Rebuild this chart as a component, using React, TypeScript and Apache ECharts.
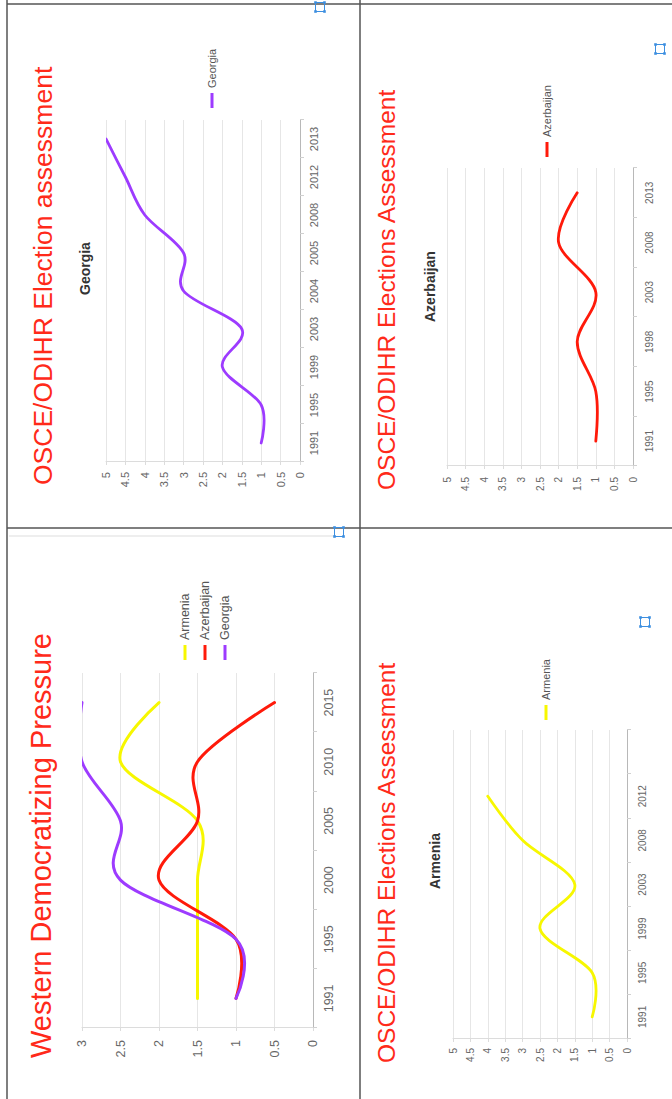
import React, { useEffect, useRef } from "react";
import * as echarts from "echarts";

// ---- Data ----
const wdpYears = ["1991", "1995", "2000", "2005", "2010", "2015"];
const wdpArmenia = [1.5, 1.5, 1.5, 1.5, 2.5, 2];
const wdpAzerbaijan = [1, 1, 2, 1.5, 1.5, 0.5];
const wdpGeorgia = [1, 1, 2.5, 2.5, 3, 3];

const georgiaYears = ["1991", "1995", "1999", "2003", "2004", "2005", "2008", "2012", "2013"];
const georgiaScores = [1, 1, 2, 1.5, 3, 3, 4, 4.5, 5];

const azerbaijanYears = ["1991", "1995", "1998", "2003", "2008", "2013"];
const azerbaijanScores = [1, 1, 1.5, 1, 2, 1.5];

const armeniaYears = ["1991", "1995", "1999", "2003", "2008", "2012", ""];
const armeniaScores = [1, 1, 2.5, 1.5, 3, 4, null];

const YELLOW = "#f7f700";
const RED = "#ff1a0a";
const PURPLE = "#9d3bff";
const TITLE_RED = "#ff2a1a";
const FONT = "'Liberation Sans', Arial, sans-serif";

function axes(idx: number, cats: string[], max: number, fs: number, xm: number, ym: number) {
  return {
    x: {
      gridIndex: idx,
      type: "category",
      data: cats,
      boundaryGap: true,
      axisLine: { lineStyle: { color: "#b8b8b8", width: 1 } },
      axisTick: { show: true, length: 4, lineStyle: { color: "#d0d0d0" } },
      axisLabel: { fontSize: fs, color: "#666", margin: xm, fontFamily: FONT, interval: 0 },
      splitLine: { show: false },
    },
    y: {
      gridIndex: idx,
      type: "value",
      min: 0,
      max: max,
      interval: 0.5,
      axisLine: { show: true, lineStyle: { color: "#dcdcdc" } },
      axisTick: { show: true, length: 3, lineStyle: { color: "#dcdcdc" } },
      splitLine: { lineStyle: { color: "#e6e6e6" } },
      axisLabel: { fontSize: fs, color: "#666", margin: ym, fontFamily: FONT },
    },
  };
}

// Cardinal (Catmull-Rom) curve through the points given by the axes' own scales,
// like the original chart's "function" curve type.
function curvePath(pts: number[][]) {
  const n = pts.length;
  if (n === 0) return "";
  let d = `M${pts[0][0]},${pts[0][1]}`;
  const tan = (i: number) => {
    if (i === 0 || i === n - 1) return [0, 0];
    return [(pts[i + 1][0] - pts[i - 1][0]) / 2, (pts[i + 1][1] - pts[i - 1][1]) / 2];
  };
  for (let i = 0; i < n - 1; i++) {
    const a = pts[i];
    const b = pts[i + 1];
    const ta = tan(i);
    const tb = tan(i + 1);
    const c1 = [a[0] + ta[0] / 3, a[1] + ta[1] / 3];
    const c2 = [b[0] - tb[0] / 3, b[1] - tb[1] / 3];
    d += ` C${c1[0]},${c1[1]} ${c2[0]},${c2[1]} ${b[0]},${b[1]}`;
  }
  return d;
}

function line(name: string, values: (number | null)[], idx: number, color: string, w: number) {
  const data: number[][] = [];
  values.forEach((v, i) => {
    if (v !== null) data.push([i, v]);
  });
  return {
    type: "custom",
    name,
    xAxisIndex: idx,
    yAxisIndex: idx,
    coordinateSystem: "cartesian2d",
    clip: true,
    encode: { x: 0, y: 1 },
    data,
    itemStyle: { color },
    renderItem: (params: any, api: any) => {
      if (params.dataIndex !== 0) return null;
      const pts = data.map((p) => api.coord(p));
      return {
        type: "path",
        shape: { pathData: curvePath(pts) },
        style: { stroke: color, lineWidth: w, fill: "none", lineCap: "round", lineJoin: "round" },
        silent: true,
      };
    },
  };
}

function blueIcon(cx: number, cy: number) {
  const c = "#3d8fe0";
  const s = 2.6;
  const h = 4.5;
  return {
    type: "group",
    x: cx,
    y: cy,
    silent: true,
    children: [
      { type: "rect", shape: { x: -h, y: -h, width: 2 * h, height: 2 * h }, style: { fill: "none", stroke: c, lineWidth: 1 } },
      { type: "rect", shape: { x: -h - s / 2, y: -h - s / 2, width: s, height: s }, style: { fill: c } },
      { type: "rect", shape: { x: h - s / 2, y: -h - s / 2, width: s, height: s }, style: { fill: c } },
      { type: "rect", shape: { x: -h - s / 2, y: h - s / 2, width: s, height: s }, style: { fill: c } },
      { type: "rect", shape: { x: h - s / 2, y: h - s / 2, width: s, height: s }, style: { fill: c } },
    ],
  };
}

function hline(x1: number, y1: number, x2: number, y2: number, color: string, w: number) {
  return { type: "line", silent: true, shape: { x1, y1, x2, y2 }, style: { stroke: color, lineWidth: w } };
}

export default function App() {
  const ref = useRef<HTMLDivElement>(null);

  useEffect(() => {
    if (!ref.current) return;
    const chart = echarts.init(ref.current, null, { renderer: "svg" });

    const a0 = axes(0, wdpYears, 3, 12.5, 9, 12);
    const a1 = axes(1, georgiaYears, 5, 11, 8, 10);
    const a2 = axes(2, azerbaijanYears, 5, 10, 11, 11);
    const a3 = axes(3, armeniaYears, 5, 10, 10, 9);

    const legendBase = {
      orient: "vertical",
      icon: "rect",
      itemWidth: 15,
      itemHeight: 3,
      itemGap: 6,
      padding: 0,
      selectedMode: false,
    };

    chart.setOption({
      animation: false,
      backgroundColor: "#ffffff",
      title: [
        { text: "Western Democratizing Pressure", left: 41, top: 26, padding: 0, textStyle: { fontSize: 29, fontWeight: "normal", color: TITLE_RED, fontFamily: FONT } },
        { text: "OSCE/ODIHR Election assessment", left: 614, top: 29, padding: 0, textStyle: { fontSize: 26.5, fontWeight: "normal", color: TITLE_RED, fontFamily: FONT } },
        { text: "OSCE/ODIHR Elections Assessment", left: 609, top: 374, padding: 0, textStyle: { fontSize: 24.5, fontWeight: "normal", color: TITLE_RED, fontFamily: FONT } },
        { text: "OSCE/ODIHR Elections Assessment", left: 36, top: 374, padding: 0, textStyle: { fontSize: 24.5, fontWeight: "normal", color: TITLE_RED, fontFamily: FONT } },
        { text: "Georgia", left: 804, top: 78, padding: 0, textStyle: { fontSize: 14, fontWeight: "bold", color: "#333", fontFamily: FONT } },
        { text: "Azerbaijan", left: 777, top: 423, padding: 0, textStyle: { fontSize: 14, fontWeight: "bold", color: "#333", fontFamily: FONT } },
        { text: "Armenia", left: 210, top: 428, padding: 0, textStyle: { fontSize: 14, fontWeight: "bold", color: "#333", fontFamily: FONT } },
      ],
      legend: [
        { ...legendBase, data: ["Armenia", "Azerbaijan", "Georgia"], left: 439, top: 178, textStyle: { fontSize: 12.5, color: "#555", lineHeight: 14, fontFamily: FONT } },
        { ...legendBase, data: ["Georgia"], left: 991, top: 206, textStyle: { fontSize: 11, color: "#555", lineHeight: 12, fontFamily: FONT } },
        { ...legendBase, data: ["Azerbaijan"], left: 942, top: 541, textStyle: { fontSize: 11, color: "#555", lineHeight: 12, fontFamily: FONT } },
        { ...legendBase, data: ["Armenia"], left: 379, top: 540, textStyle: { fontSize: 11, color: "#555", lineHeight: 12, fontFamily: FONT } },
      ],
      grid: [
        { left: 71, top: 82, width: 355, height: 231, containLabel: false },
        { left: 637, top: 106, width: 342, height: 194, containLabel: false },
        { left: 633, top: 447, width: 298, height: 186, containLabel: false },
        { left: 60, top: 453, width: 309, height: 174, containLabel: false },
      ],
      xAxis: [a0.x, a1.x, a2.x, a3.x],
      yAxis: [a0.y, a1.y, a2.y, a3.y],
      series: [
        line("Armenia", wdpArmenia, 0, YELLOW, 3),
        line("Azerbaijan", wdpAzerbaijan, 0, RED, 3),
        line("Georgia", wdpGeorgia, 0, PURPLE, 3),
        line("Georgia", georgiaScores, 1, PURPLE, 2.8),
        line("Azerbaijan", azerbaijanScores, 2, RED, 2.8),
        line("Armenia", armeniaScores, 3, YELLOW, 2.8),
      ],
      graphic: [
        hline(0, 7, 1099, 7, "#555", 1.5),
        hline(1095, 7, 1095, 672, "#555", 1.5),
        hline(0, 360, 1099, 360, "#555", 1.5),
        hline(571, 7, 571, 672, "#555", 1.5),
        hline(563, 9, 563, 336, "#dddddd", 1),
        blueIcon(567, 339),
        blueIcon(1092, 320),
        blueIcon(1050, 660),
        blueIcon(477, 645),
      ],
    });

    return () => chart.dispose();
  }, []);

  return (
    <div style={{ position: "fixed", left: 0, top: 0, width: 672, height: 1099, overflow: "hidden", background: "#fff" }}>
      <div
        style={{
          position: "absolute",
          left: 0,
          top: 0,
          width: 1099,
          height: 672,
          transformOrigin: "0 0",
          transform: "translate(0px, 1099px) rotate(-90deg)",
        }}
      >
        <div ref={ref} style={{ width: 1099, height: 672 }} />
      </div>
    </div>
  );
}
